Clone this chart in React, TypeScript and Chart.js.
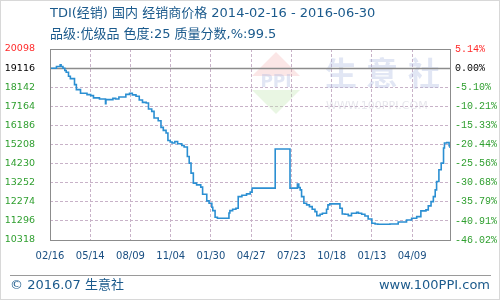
import React, { useEffect, useRef } from "react";
import { Chart, registerables } from "chart.js";

Chart.register(...registerables);

const TITLE = "TDI(经销) 国内 经销商价格 2014-02-16 - 2016-06-30";
const SUBTITLE = "品级:优级品 色度:25 质量分数,%:99.5";
const FOOTER_LEFT = "© 2016.07 生意社";
const FOOTER_RIGHT = "www.100PPI.com";

const BASE_PRICE = 19116;
const Y_TICKS = [10318, 11296, 12274, 13252, 14230, 15208, 16186, 17164, 18142, 19116, 20098];
const X_TICK_DAYS = [0, 87, 174, 261, 348, 435, 522, 609, 696, 783];
const X_TICK_LABELS = ["02/16", "05/14", "08/09", "11/04", "01/30", "04/27", "07/23", "10/18", "01/13", "04/09"];
const LAST_DAY = 865;

// day offset from 2014-02-16
const DAYS = [
  0, 14, 22, 24, 28, 32, 35, 40, 44, 53, 57, 66, 80, 88, 94, 107, 120, 121, 136, 142,
  149, 164, 172, 178, 186, 193, 200, 208, 213, 220, 225, 234, 240, 245, 251, 255, 260, 264, 270, 276,
  285, 290, 297, 301, 305, 310, 317, 326, 330, 339, 344, 350, 352, 357, 362, 387, 389, 395, 402, 407,
  415, 425, 433, 437, 487, 519, 535, 538, 541, 544, 549, 555, 561, 567, 573, 577, 584, 589, 598, 601,
  605, 627, 632, 638, 645, 652, 663, 667, 674, 681, 688, 696, 703, 709, 735, 753, 771, 782, 793, 802,
  813, 818, 824, 829, 833, 836, 841, 846, 851, 853, 858, 863, 865,
];
const PRICES = [
  19116, 19200, 19287, 19200, 19116, 18994, 18907, 18702, 18583, 18275, 18019, 17829, 17762, 17711, 17593, 17541, 17300, 17505, 17572, 17541,
  17644, 17777, 17829, 17747, 17675, 17490, 17367, 17336, 17028, 16905, 16566, 16427, 16083, 15929, 15796, 15416, 15334, 15282, 15364, 15246,
  15159, 15077, 14594, 14255, 13742, 13229, 13141, 13023, 12664, 12320, 12202, 11997, 11822, 11483, 11432, 11704, 11822, 11894, 11945, 12541,
  12613, 12679, 12767, 12972, 14974, 12972, 13177, 13003, 12885, 12541, 12202, 12115, 12027, 11894, 11771, 11565, 11637, 11688, 11894, 12115,
  12166, 11945, 11653, 11637, 11565, 11688, 11740, 11688, 11637, 11550, 11396, 11175, 11139, 11124, 11139, 11242, 11345, 11432, 11514, 11807,
  11858, 12063, 12284, 12541, 12885, 13311, 13912, 14255, 15026, 15282, 15313, 15144, 15026,
];

const GREEN = "#2f9f2f";
const RED = "#ff2a2a";
const BLUE_TEXT = "#1b5a8c";
const GRID = "#c8b2c8";
const CJK = '"DejaVu Sans", "Noto Sans CJK SC", sans-serif';

const pctLabel = (v: number) => (((v / BASE_PRICE) - 1) * 100).toFixed(2) + "%";
const tickColor = (v: number) => (v === 20098 ? RED : v === BASE_PRICE ? "#000" : GREEN);

const decor = {
  id: "decor",
  beforeDatasetsDraw(chart: any) {
    const { ctx, chartArea: a, scales } = chart;
    ctx.save();
    // watermark
    ctx.globalAlpha = 0.35;
    ctx.fillStyle = "#f4b8b8";
    ctx.beginPath();
    ctx.moveTo(276, 52); ctx.lineTo(300, 76); ctx.lineTo(252, 76); ctx.closePath(); ctx.fill();
    ctx.fillStyle = "#bfe6b0";
    ctx.beginPath();
    ctx.moveTo(252, 90); ctx.lineTo(300, 90); ctx.lineTo(276, 114); ctx.closePath(); ctx.fill();
    ctx.fillStyle = "#a9b8e0";
    ctx.font = 'bold 17px "DejaVu Sans", sans-serif';
    ctx.textAlign = "center"; ctx.textBaseline = "middle";
    ctx.fillText("PPI", 276, 83);
    ctx.font = 'bold 32px "Noto Sans CJK SC", sans-serif';
    ctx.fillText("生", 341, 73);
    ctx.fillText("意", 382, 73);
    ctx.fillText("社", 424, 73);
    ctx.font = '11px "DejaVu Sans", sans-serif';
    ctx.textAlign = "left";
    ctx.fillStyle = "#b8b8c8";
    ctx.fillText("WWW.100PPI.COM", 326, 106);
    ctx.globalAlpha = 1;
    // baseline (0%)
    const yb = Math.round(scales.y.getPixelForValue(BASE_PRICE)) + 0.5;
    ctx.strokeStyle = "#8c8c8c";
    ctx.lineWidth = 1.5;
    ctx.beginPath(); ctx.moveTo(a.left, yb); ctx.lineTo(a.right, yb); ctx.stroke();
    ctx.restore();
  },
  afterDraw(chart: any) {
    const { ctx, chartArea: a } = chart;
    ctx.save();
    ctx.strokeStyle = "#8c8c8c";
    ctx.lineWidth = 1;
    ctx.strokeRect(Math.round(a.left) + 0.5, Math.round(a.top) + 0.5, Math.round(a.right - a.left), Math.round(a.bottom - a.top));
    // titles
    ctx.fillStyle = BLUE_TEXT;
    ctx.textAlign = "left";
    ctx.textBaseline = "middle";
    ctx.font = "13px " + CJK;
    ctx.fillText(TITLE, 50, 14);
    ctx.fillText(SUBTITLE, 50, 35);
    // footer
    ctx.strokeStyle = "#9a9a9a";
    ctx.beginPath(); ctx.moveTo(10, 275.5); ctx.lineTo(491, 275.5); ctx.stroke();
    ctx.font = "13px " + CJK;
    ctx.fillText(FOOTER_LEFT, 10, 286);
    ctx.textAlign = "right";
    ctx.fillText(FOOTER_RIGHT, 490, 286);
    // outer border
    ctx.strokeStyle = "#b0b0b0";
    ctx.setLineDash([1, 1]);
    ctx.strokeRect(0.5, 0.5, 499, 299);
    ctx.restore();
  },
};

export default function App() {
  const ref = useRef<HTMLCanvasElement | null>(null);
  useEffect(() => {
    if (!ref.current) return;
    const points = DAYS.map((d, i) => ({ x: d, y: PRICES[i] }));
    const chart = new Chart(ref.current, {
      type: "line",
      data: {
        datasets: [
          {
            data: points,
            borderColor: "#2b8fd2",
            borderWidth: 1.6,
            pointRadius: 0,
            stepped: true,
            fill: false,
          },
        ],
      },
      options: {
        animation: false,
        responsive: false,
        devicePixelRatio: 1,
        layout: { padding: { top: 49, left: 0, right: 0, bottom: 0 } },
        plugins: { legend: { display: false }, tooltip: { enabled: false }, title: { display: false } },
        scales: {
          x: {
            type: "linear",
            min: 0,
            max: LAST_DAY,
            afterBuildTicks: (s: any) => { s.ticks = X_TICK_DAYS.map((v) => ({ value: v })); },
            afterFit: (s: any) => { s.height = 60; },
            ticks: {
              autoSkip: false,
              maxRotation: 0,
              padding: 10,
              color: "#1a4f82",
              font: { family: "DejaVu Sans", size: 10 },
              callback: (_v: any, i: number) => X_TICK_LABELS[i],
            },
            grid: { color: GRID, drawTicks: false, lineWidth: 1 },
            border: { display: false, dash: [3, 2] },
          },
          y: {
            position: "left",
            min: 10318,
            max: 20098,
            afterBuildTicks: (s: any) => { s.ticks = Y_TICKS.map((v) => ({ value: v })); },
            afterFit: (s: any) => { s.width = 50; },
            ticks: {
              padding: 15,
              color: (c: any) => tickColor(c.tick.value),
              font: { family: "DejaVu Sans", size: 9.5 },
              callback: (v: any) => String(v),
            },
            grid: {
              color: (c: any) => (c.tick && (c.tick.value === BASE_PRICE || c.tick.value === 20098 || c.tick.value === 10318) ? "rgba(0,0,0,0)" : GRID),
              drawTicks: false,
            },
            border: { display: false, dash: [3, 2] },
          },
          yr: {
            position: "right",
            min: 10318,
            max: 20098,
            afterBuildTicks: (s: any) => { s.ticks = Y_TICKS.map((v) => ({ value: v })); },
            afterFit: (s: any) => { s.width = 50; },
            ticks: {
              padding: 5,
              color: (c: any) => tickColor(c.tick.value),
              font: { family: "Liberation Mono", size: 10 },
              callback: (v: any) => pctLabel(Number(v)),
            },
            grid: { display: false, drawTicks: false },
            border: { display: false },
          },
        },
      },
      plugins: [decor],
    } as any);
    return () => chart.destroy();
  }, []);
  return (
    <div style={{ position: "absolute", left: 0, top: 0, width: 500, height: 300, background: "#fff" }}>
      <canvas ref={ref} width={500} height={300} />
    </div>
  );
}
